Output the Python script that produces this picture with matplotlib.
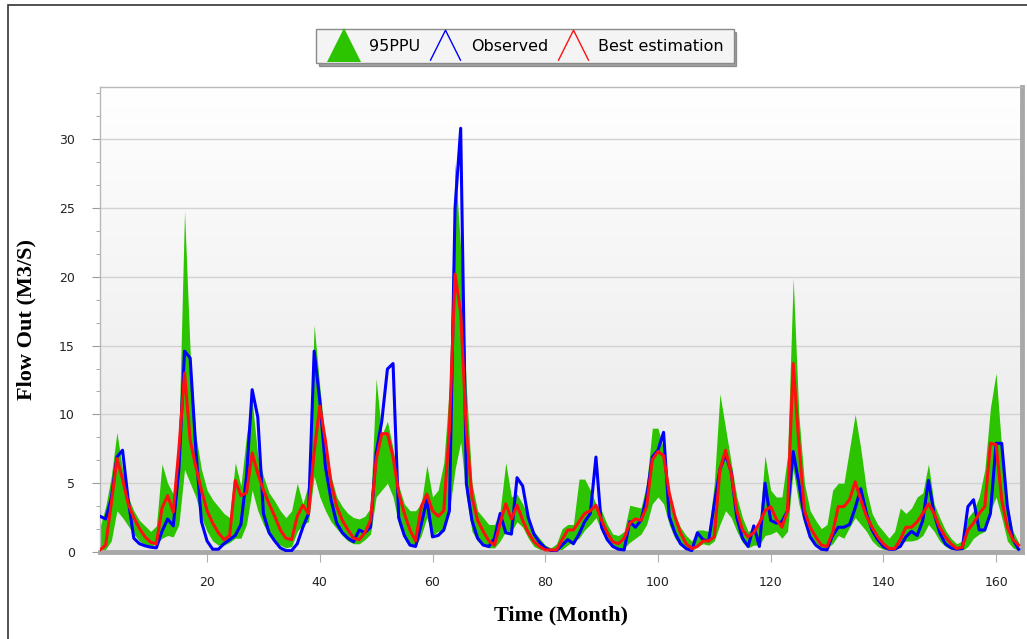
import numpy as np
import matplotlib; matplotlib.use("Agg")
import matplotlib.pyplot as plt
from matplotlib.colors import LinearSegmentedColormap
from matplotlib.lines import Line2D
from matplotlib.path import Path
from matplotlib.patches import Rectangle

# ---- data (months 1..164) ----
months = np.arange(1, 165)
observed = [2.6, 2.4, 3.9, 6.9, 7.4, 3.8, 1.0, 0.6, 0.45, 0.35,
            0.3, 1.5, 2.4, 1.9, 6.0, 14.6, 14.1, 7.5, 2.2, 0.8,
            0.2, 0.2, 0.6, 0.9, 1.2, 2.0, 5.5, 11.8, 9.8, 2.8,
            1.4, 0.8, 0.3, 0.1, 0.1, 0.6, 1.8, 2.8, 14.6, 11.0,
            6.2, 3.8, 2.1, 1.4, 1.0, 0.75, 1.6, 1.4, 1.8, 7.2,
            9.5, 13.3, 13.7, 2.5, 1.2, 0.5, 0.4, 2.0, 3.8, 1.1,
            1.2, 1.6, 3.0, 25.0, 30.8, 5.0, 2.3, 1.0, 0.5, 0.4,
            1.0, 2.8, 1.4, 1.3, 5.4, 4.8, 2.5, 1.3, 0.7, 0.3,
            0.1, 0.1, 0.5, 0.9, 0.6, 1.3, 2.2, 2.8, 6.9, 1.8,
            0.9, 0.4, 0.2, 0.15, 2.2, 1.8, 2.3, 4.0, 6.9, 7.4,
            8.7, 2.6, 1.4, 0.6, 0.25, 0.1, 1.4, 0.9, 0.8, 3.5,
            6.0, 7.1, 5.8, 2.5, 1.0, 0.4, 1.9, 0.4, 5.0, 2.3,
            2.1, 2.2, 3.0, 7.3, 5.0, 2.5, 1.1, 0.5, 0.2, 0.15,
            1.2, 1.8, 1.8, 2.0, 3.2, 4.6, 2.8, 1.6, 0.9, 0.4,
            0.2, 0.2, 0.4, 1.1, 1.5, 1.2, 2.3, 5.2, 2.8, 1.4,
            0.6, 0.3, 0.2, 0.25, 3.3, 3.8, 1.6, 1.6, 2.8, 7.9,
            7.9, 3.3, 0.9, 0.2]
best_est = [0.15, 0.5, 3.5, 6.8, 5.3, 3.5, 2.5, 1.7, 1.1, 0.7,
            0.6, 3.2, 4.1, 2.9, 7.5, 13.0, 8.1, 6.2, 4.5, 3.0,
            2.1, 1.4, 0.9, 1.2, 5.2, 4.1, 4.3, 7.2, 5.7, 4.5,
            3.5, 2.6, 1.6, 1.0, 0.9, 2.6, 3.4, 2.8, 7.3, 10.6,
            8.1, 5.0, 3.3, 2.3, 1.6, 1.0, 0.9, 1.4, 2.3, 6.7,
            8.6, 8.6, 6.9, 4.3, 2.8, 1.6, 0.8, 3.3, 4.2, 3.0,
            2.6, 3.0, 9.0, 20.2, 17.4, 8.9, 4.0, 2.3, 1.5, 0.8,
            0.5, 2.1, 3.5, 2.4, 3.4, 2.3, 1.4, 0.75, 0.4, 0.15,
            0.15, 0.15, 0.9, 1.6, 1.6, 2.2, 2.8, 3.0, 3.4, 2.3,
            1.4, 0.75, 0.6, 1.0, 2.1, 2.4, 2.3, 3.3, 6.7, 7.3,
            7.0, 4.3, 2.6, 1.4, 0.6, 0.25, 0.4, 0.8, 0.8, 1.1,
            6.0, 7.4, 5.7, 3.0, 1.6, 1.1, 1.4, 2.1, 3.0, 3.3,
            2.4, 1.8, 3.0, 13.7, 7.9, 3.0, 1.8, 1.1, 0.5, 0.4,
            1.4, 3.3, 3.3, 3.8, 5.1, 3.8, 2.6, 1.8, 1.1, 0.6,
            0.25, 0.25, 0.9, 1.8, 1.8, 2.2, 2.8, 3.5, 2.8, 1.8,
            1.1, 0.6, 0.25, 0.35, 1.6, 2.1, 2.8, 3.3, 7.9, 7.8,
            3.8, 1.8, 0.9, 0.5]
ppu_upper = [1.8, 3.3, 5.5, 8.7, 6.0, 4.0, 3.0, 2.3, 1.9, 1.5,
             1.9, 6.4, 5.0, 4.2, 8.5, 24.8, 14.5, 8.5, 6.0, 4.5,
             3.8, 3.3, 2.8, 2.5, 6.5, 4.8, 8.5, 11.0, 7.0, 5.5,
             4.3, 3.7, 3.0, 2.5, 3.0, 5.0, 3.5, 5.0, 16.5, 12.0,
             8.0, 5.5, 4.0, 3.3, 2.8, 2.5, 2.4, 2.6, 3.2, 12.6,
             8.5, 9.5, 7.5, 4.8, 3.5, 3.0, 3.0, 3.5, 6.3, 4.0,
             4.5, 6.5, 12.0, 28.3, 22.0, 12.0, 5.0, 3.0, 2.5, 2.0,
             2.0, 3.0, 6.5, 4.0, 4.2, 3.5, 2.5, 1.5, 1.0, 0.5,
             0.3, 0.6, 1.7, 2.0, 2.0, 5.3, 5.3, 4.5, 3.5, 3.0,
             2.0, 1.3, 1.2, 1.5, 3.4, 3.3, 3.2, 5.0, 9.0, 9.0,
             7.5, 4.5, 2.7, 1.8, 1.2, 0.8, 1.6, 1.6, 1.5, 5.0,
             11.5, 9.0, 6.5, 4.0, 2.5, 1.5, 1.7, 2.0, 7.0, 4.5,
             4.0, 4.0, 7.0, 19.9, 10.0, 5.0, 3.0, 2.3, 1.7, 2.0,
             4.5, 5.0, 5.0, 7.5, 10.0, 7.5, 4.5, 2.8, 2.0, 1.5,
             1.0, 1.5, 3.2, 2.8, 3.2, 4.0, 4.3, 6.4, 3.5, 2.5,
             1.6, 1.0, 0.6, 0.8, 2.5, 3.0, 4.0, 6.0, 10.5, 13.0,
             7.5, 3.5, 1.5, 0.7]
ppu_lower = [0.0, 0.2, 0.8, 3.0, 2.5, 1.9, 1.3, 0.8, 0.5, 0.4,
             0.6, 1.0, 1.2, 1.1, 2.0, 6.0, 5.0, 4.0, 2.5, 1.5,
             0.8, 0.5, 0.5, 0.7, 1.0, 1.0, 2.0, 4.5, 3.0, 2.0,
             1.2, 0.8, 0.5, 0.3, 0.4, 1.5, 2.0, 2.2, 5.5, 4.0,
             3.0, 2.2, 1.7, 1.2, 0.8, 0.6, 0.6, 0.9, 1.3, 4.0,
             4.5, 5.0, 4.0, 2.0, 1.0, 0.6, 0.4, 1.2, 2.5, 1.2,
             1.5, 1.5, 3.0, 6.0, 8.0, 4.0, 1.5, 0.8, 0.5, 0.3,
             0.3, 0.8, 1.5, 1.5, 2.2, 1.8, 1.0, 0.4, 0.2, 0.05,
             0.0, 0.0, 0.2, 0.5, 0.8, 1.0, 1.6, 2.0, 2.5, 1.5,
             0.8, 0.4, 0.2, 0.3, 0.7, 1.0, 1.3, 2.0, 3.5, 4.0,
             3.5, 2.0, 1.0, 0.5, 0.2, 0.1, 0.4, 0.6, 0.5, 0.8,
             2.0, 3.0, 2.5, 1.5, 0.7, 0.3, 0.5, 0.5, 1.2, 1.3,
             1.5, 1.0, 1.5, 6.0, 3.5, 2.0, 1.0, 0.5, 0.3, 0.3,
             0.6, 1.2, 1.0, 1.8, 2.5, 2.0, 1.5, 0.8, 0.4, 0.2,
             0.1, 0.1, 0.6, 0.8, 0.8, 0.9, 1.2, 2.0, 1.5, 0.8,
             0.4, 0.2, 0.1, 0.1, 0.4, 1.0, 1.3, 1.5, 3.0, 4.0,
             2.5, 0.8, 0.3, 0.1]
x_ticks = [20, 40, 60, 80, 100, 120, 140, 160]
y_ticks = [0, 5, 10, 15, 20, 25, 30]

GREEN = "#2cc400"; BLUE = "#0000ff"; RED = "#ff1010"

fig = plt.figure(figsize=(10.27, 6.39), dpi=100)
fig.patch.set_facecolor("white")
pos = [100 / 1027, 1 - 552 / 639, 922 / 1027, 465 / 639]

# gradient plot background
bg = fig.add_axes(pos, zorder=0)
bg.imshow(np.linspace(0, 1, 256)[:, None], aspect="auto", extent=[0, 1, 0, 1],
          cmap=LinearSegmentedColormap.from_list("bg", ["#e6e6e6", "#ffffff"]), origin="lower")
bg.axis("off")

ax = fig.add_axes(pos, zorder=1)
ax.set_facecolor("none")
ax.fill_between(months, ppu_lower, ppu_upper, color=GREEN, lw=0, zorder=2)
ax.plot(months, observed, color=BLUE, lw=2.2, zorder=3)
ax.plot(months, best_est, color=RED, lw=2.2, zorder=4)

ax.set_xlim(1, 164.6); ax.set_ylim(0, 33.8)
ax.set_xticks(x_ticks); ax.set_yticks(y_ticks)
ax.set_yticks(np.arange(0, 33.8, 5 / 3), minor=True)
ax.yaxis.grid(True, color="#d2d2d2", lw=1.0, zorder=1)
ax.set_axisbelow(True)
ax.tick_params(axis="y", which="major", length=6, color="#9a9a9a", labelsize=9, labelcolor="#222222", pad=12)
ax.tick_params(axis="y", which="minor", length=3, color="#9a9a9a")
ax.tick_params(axis="x", which="major", length=7, color="#b0b0b0", labelsize=9, labelcolor="#222222", pad=10)
for s in ["left", "top"]:
    ax.spines[s].set_color("#b8b8b8"); ax.spines[s].set_linewidth(1.0)
ax.spines["bottom"].set_color("#a8a8a8"); ax.spines["bottom"].set_linewidth(3.5)
ax.spines["right"].set_color("#a8a8a8"); ax.spines["right"].set_linewidth(3.5)

lab = dict(family=["Liberation Serif", "DejaVu Serif"], fontweight="bold", fontsize=16)
ax.set_xlabel("Time (Month)", labelpad=12, **lab)
ax.set_ylabel("Flow Out (M3/S)", labelpad=16, **lab)

# legend with triangle glyphs
caret = Path([(-1, -1), (0, 1), (1, -1)], [Path.MOVETO, Path.LINETO, Path.LINETO])
handles = [Line2D([], [], ls="none", marker="^", ms=24, color=GREEN, markeredgewidth=0),
           Line2D([], [], ls="none", marker=caret, ms=22, markerfacecolor="none", markeredgecolor=BLUE, markeredgewidth=1.0),
           Line2D([], [], ls="none", marker=caret, ms=22, markerfacecolor="none", markeredgecolor=RED, markeredgewidth=1.0)]
leg = fig.legend(handles, ["95PPU", "Observed", "Best estimation"], loc="center", bbox_to_anchor=(0.511, 0.928),
                 ncol=3, frameon=True, fancybox=False, shadow=True, fontsize=11.5, handlelength=2.3,
                 columnspacing=0.4, handletextpad=0.45, borderpad=0.6, borderaxespad=0)
leg.get_frame().set_edgecolor("#8a8a8a"); leg.get_frame().set_facecolor("#f4f4f4")

# outer frame of the picture
fig.add_artist(Rectangle((8 / 1027, -0.01), 1.1, 1 - 5 / 639 + 0.01, transform=fig.transFigure,
                         fill=False, edgecolor="#333333", lw=1.2))

fig.savefig("out.png", dpi=100)
